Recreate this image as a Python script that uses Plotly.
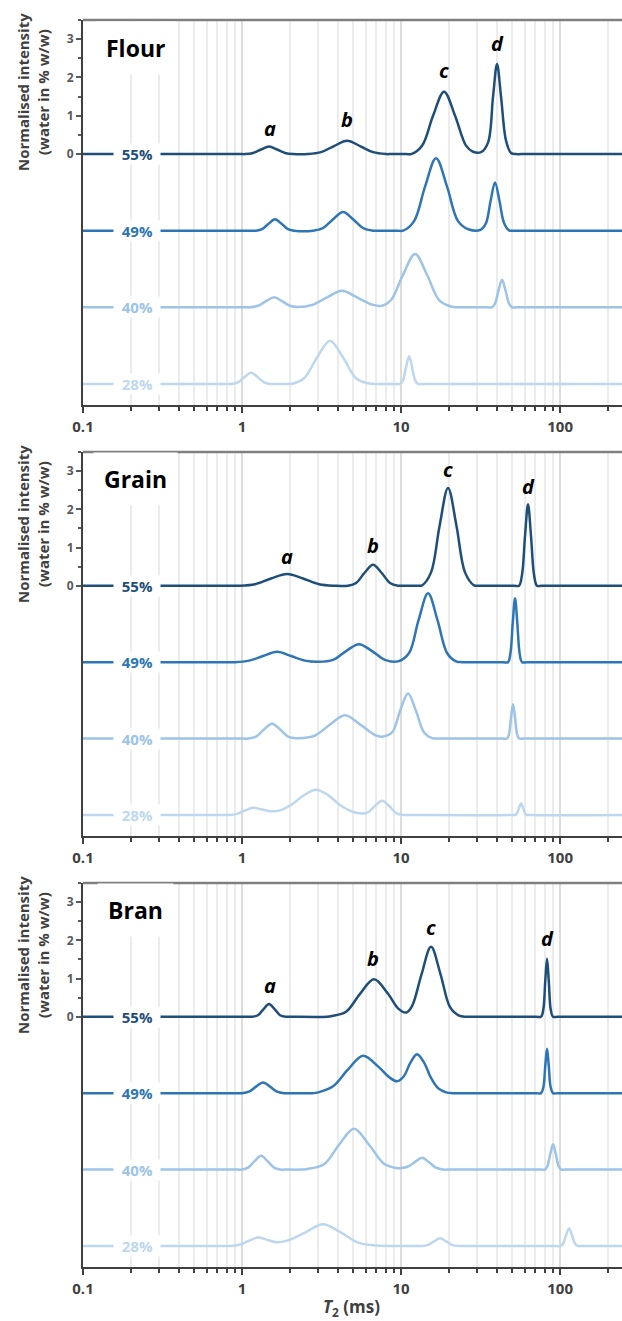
import math
import plotly.graph_objects as go

W, H = 622, 1321

# ---------------- data (T2 in ms, normalised intensity) ----------------
panels = ["Flour", "Grain", "Bran"]
moistures = ["55%", "49%", "40%", "28%"]
offsets = [0, -2, -4, -6]

flour_55_t2 = [0.1, 0.97, 1.044, 1.173, 1.317, 1.478, 1.660, 1.864, 2.093, 2.600, 3.139, 3.790, 4.574, 5.521, 6.664, 8.044,
               8.65, 10.75, 11.56, 13.55, 15.89, 18.63, 21.85, 25.61, 28.35, 31.83, 35.22, 37.87, 40.12, 42.51, 45.70,
               49.14, 52.82, 56.8, 245]
flour_55_int = [0, 0, 0, 0.03, 0.12, 0.20, 0.12, 0.03, 0, 0, 0.05, 0.21, 0.35, 0.21, 0.05, 0,
                0, 0, 0, 0.22, 1.0, 1.63, 1.0, 0.22, 0.06, 0.05, 0.3, 1.5, 2.35, 1.5, 0.35,
                0.03, 0, 0, 0]

flour_49_t2 = [0.1, 1.14, 1.225, 1.336, 1.468, 1.613, 1.772, 1.947, 2.124, 2.796, 3.231, 3.735, 4.316, 4.989, 5.766, 6.664,
               7.16, 9.57, 10.29, 12.07, 14.15, 16.59, 19.46, 22.81, 26.75, 31.83, 34.22, 36.52, 38.97, 41.60, 44.40,
               47.73, 51.32, 55.2, 245]
flour_49_int = [0, 0, 0, 0.04, 0.18, 0.30, 0.18, 0.04, 0, 0, 0.07, 0.30, 0.49, 0.30, 0.07, 0,
                0, 0, 0, 0.25, 1.15, 1.89, 1.15, 0.25, 0.03, 0.03, 0.2, 0.77, 1.26, 0.77, 0.2,
                0.01, 0, 0, 0]

flour_40_t2 = [0.1, 1.04, 1.123, 1.261, 1.416, 1.590, 1.785, 2.004, 2.250, 2.756, 3.424, 4.254, 5.286, 6.569, 7.592,
               8.648, 10.29, 12.25, 14.56, 17.33, 20.62, 22.81, 24.5, 34.7, 37.33, 38.97, 41.00, 43.13, 45.37, 47.73,
               49.85, 53.6, 245]
flour_40_int = [0, 0, 0, 0.04, 0.16, 0.26, 0.16, 0.04, 0.01, 0.06, 0.26, 0.43, 0.26, 0.07, 0.04,
                0.19, 0.85, 1.39, 0.85, 0.19, 0.02, 0, 0, 0, 0, 0.1, 0.44, 0.72, 0.44, 0.1,
                0, 0, 0]

flour_28_t2 = [0.1, 0.80, 0.865, 0.943, 1.037, 1.139, 1.252, 1.375, 1.500, 1.61, 1.89, 2.033, 2.454, 2.962, 3.576,
               4.316, 5.210, 6.289, 7.375, 7.93, 9.16, 9.85, 10.29, 10.75, 11.23, 11.72, 12.25, 12.78, 13.74, 245]
flour_28_int = [0, 0, 0, 0.04, 0.18, 0.29, 0.18, 0.04, 0, 0, 0, 0, 0.15, 0.69, 1.13,
                0.69, 0.15, 0.01, 0, 0, 0, 0, 0.1, 0.44, 0.72, 0.44, 0.1, 0, 0, 0]

grain_55_t2 = [0.1, 0.89, 0.957, 1.207, 1.522, 1.919, 2.419, 3.050, 3.845, 4.641, 5.210, 5.893, 6.664, 7.537, 8.524,
               9.569, 10.29, 12.6, 13.55, 15.43, 17.45, 19.74, 22.32, 25.24, 28.76, 30.9, 51.3, 55.16, 57.62, 60.17,
               62.84, 65.63, 68.55, 71.59, 77.0, 245]
grain_55_int = [0, 0, 0, 0.04, 0.19, 0.31, 0.19, 0.04, 0, 0, 0.07, 0.34, 0.55, 0.34, 0.07,
                0, 0, 0, 0.01, 0.35, 1.56, 2.56, 1.56, 0.35, 0.01, 0, 0, 0, 0.29, 1.30,
                2.13, 1.30, 0.29, 0, 0, 0]

grain_49_t2 = [0.1, 0.84, 0.903, 1.107, 1.356, 1.660, 2.033, 2.490, 3.006, 3.735, 4.508, 5.442, 6.569, 7.929, 9.569,
               11.23, 12.88, 14.78, 16.95, 19.46, 22.16, 24.17, 26.0, 43.7, 47.05, 48.71, 50.36, 52.07, 53.82, 55.65,
               57.62, 62.0, 245]
grain_49_int = [0, 0, 0, 0.04, 0.16, 0.27, 0.16, 0.04, 0.01, 0.06, 0.29, 0.47, 0.29, 0.06, 0.02,
                0.24, 1.10, 1.80, 1.10, 0.24, 0.02, 0, 0, 0, 0, 0.23, 1.02, 1.67, 1.02, 0.23,
                0, 0, 0]

grain_40_t2 = [0.1, 1.01, 1.091, 1.225, 1.375, 1.544, 1.734, 1.947, 2.186, 2.878, 3.576, 4.443, 5.521, 6.860, 7.592,
               8.775, 9.85, 11.06, 12.42, 13.95, 15.66, 17.08, 18.4, 43.1, 46.37, 47.73, 49.14, 50.58, 52.07, 53.59,
               55.16, 59.3, 245]
grain_40_int = [0, 0, 0, 0.05, 0.24, 0.39, 0.24, 0.05, 0.01, 0.08, 0.37, 0.61, 0.37, 0.09, 0.05,
                0.16, 0.72, 1.18, 0.72, 0.16, 0.01, 0, 0, 0, 0, 0.12, 0.55, 0.90, 0.55, 0.12,
                0, 0, 0]

grain_28_t2 = [0.1, 0.77, 0.828, 0.930, 1.044, 1.173, 1.317, 1.500, 1.734, 2.063, 2.454, 2.920, 3.474, 4.133, 4.917,
               5.683, 6.199, 6.860, 7.592, 8.401, 9.295, 10.29, 11.06, 49.1, 52.82, 54.77, 56.79, 58.88, 61.05, 65.6, 245]
grain_28_int = [0, 0, 0, 0.03, 0.12, 0.19, 0.15, 0.10, 0.12, 0.28, 0.52, 0.66, 0.52, 0.26, 0.09,
                0.04, 0.07, 0.24, 0.37, 0.24, 0.05, 0, 0, 0, 0.01, 0.15, 0.30, 0.15, 0.01, 0, 0]

bran_55_t2 = [0.1, 1.075, 1.156, 1.261, 1.366, 1.478, 1.601, 1.734, 1.891, 2.03, 3.42, 3.681, 4.508, 5.521, 6.762,
              8.281, 9.569, 10.75, 11.72, 13.45, 15.43, 17.71, 20.32, 23.14, 25.61, 27.5, 70.6, 75.86, 78.54, 80.62,
              82.74, 84.92, 87.16, 90.25, 97.0, 245]
bran_55_int = [0, 0, 0, 0.04, 0.20, 0.33, 0.20, 0.04, 0, 0, 0, 0.02, 0.13, 0.60, 0.98,
               0.60, 0.22, 0.11, 0.28, 1.11, 1.83, 1.11, 0.25, 0.03, 0, 0, 0, 0, 0.21, 0.92,
               1.52, 0.92, 0.21, 0, 0, 0]

bran_49_t2 = [0.1, 0.93, 1.0, 1.107, 1.225, 1.356, 1.500, 1.660, 1.838, 1.98, 2.80, 3.006, 3.735, 4.641, 5.766,
              7.164, 8.524, 9.431, 10.44, 11.39, 12.60, 13.95, 15.43, 17.08, 19.18, 20.92, 22.5, 70.6, 75.86, 78.54,
              80.62, 82.74, 84.92, 87.16, 90.25, 97.0, 245]
bran_49_int = [0, 0, 0, 0.04, 0.17, 0.28, 0.17, 0.04, 0, 0, 0, 0.02, 0.18, 0.62, 0.98,
               0.70, 0.40, 0.31, 0.45, 0.78, 1.02, 0.80, 0.40, 0.13, 0.02, 0, 0, 0, 0, 0.16,
               0.70, 1.16, 0.70, 0.16, 0, 0, 0]

bran_40_t2 = [0.1, 0.93, 1.0, 1.091, 1.199, 1.317, 1.447, 1.590, 1.734, 1.86, 2.35, 2.526, 3.279, 4.074, 5.062,
              6.289, 7.815, 9.295, 10.14, 11.06, 12.25, 13.55, 14.99, 16.59, 18.36, 19.7, 74.8, 80.38, 83.22, 86.66,
              90.25, 94.0, 97.9, 101.4, 109.0, 245]
bran_40_int = [0, 0, 0, 0.05, 0.22, 0.36, 0.22, 0.05, 0, 0, 0, 0.01, 0.14, 0.65, 1.07,
               0.65, 0.15, 0.04, 0.04, 0.08, 0.20, 0.31, 0.19, 0.05, 0, 0, 0, 0, 0.09, 0.40,
               0.66, 0.40, 0.09, 0, 0, 0]

bran_28_t2 = [0.1, 0.79, 0.852, 0.971, 1.107, 1.261, 1.436, 1.636, 1.919, 2.490, 3.231, 4.193, 5.442, 7.061, 8.775,
              9.43, 12.6, 13.55, 14.78, 16.12, 17.58, 19.18, 20.92, 22.81, 24.5, 93.0, 99.9, 104.3, 109.0, 113.8,
              118.9, 124.2, 129.7, 139.0, 245]
bran_28_int = [0, 0, 0, 0.04, 0.14, 0.22, 0.16, 0.10, 0.14, 0.35, 0.57, 0.35, 0.08, 0.01, 0,
               0, 0, 0, 0.03, 0.12, 0.20, 0.12, 0.03, 0, 0, 0, 0, 0.06, 0.28, 0.46,
               0.28, 0.06, 0, 0, 0]

curves = {
    "Flour": [(flour_55_t2, flour_55_int), (flour_49_t2, flour_49_int), (flour_40_t2, flour_40_int), (flour_28_t2, flour_28_int)],
    "Grain": [(grain_55_t2, grain_55_int), (grain_49_t2, grain_49_int), (grain_40_t2, grain_40_int), (grain_28_t2, grain_28_int)],
    "Bran": [(bran_55_t2, bran_55_int), (bran_49_t2, bran_49_int), (bran_40_t2, bran_40_int), (bran_28_t2, bran_28_int)],
}
for _name, _lst in curves.items():
    for _t, _v in _lst:
        assert len(_t) == len(_v), (_name, len(_t), len(_v))

x_major = [0.1, 1, 10, 100]
x_major_text = ["0.1", "1", "10", "100"]
x_minor = [m * d for d in (0.1, 1, 10, 100) for m in range(2, 10) if m * d <= 245]
y_major = [0, 1, 2, 3]
y_minor = [0.5, 1.5, 2.5, 3.5]

# peak letters: (panel, letter, x_px, y_px)
letters = [
    ("Flour", "a", 270, 128), ("Flour", "b", 347, 119), ("Flour", "c", 444, 71), ("Flour", "d", 497, 43),
    ("Grain", "a", 287, 556), ("Grain", "b", 373, 545), ("Grain", "c", 448, 470), ("Grain", "d", 528, 486),
    ("Bran", "a", 270, 985), ("Bran", "b", 373, 958), ("Bran", "c", 431, 927), ("Bran", "d", 547, 938),
]

# ---------------- styling ----------------
colors = ["#1f4e79", "#2e75b6", "#9dc3e6", "#bdd7ee"]
FONT = "Open Sans"
plot_left = 83
panel_px = [(20, 405), (452, 836), (883, 1267)]  # top, bottom in pixels
title_px = [(135, 48), (135, 479), (135, 910)]
ytitle_py = [92, 524, 955]
y_range = [-6.55, 3.5]
x_range = [-1, math.log10(245)]


def px(x, y):
    return x / W, 1 - y / H


fig = go.Figure()
annotations = []
shapes = []
layout = {}

for i, name in enumerate(panels):
    k = "" if i == 0 else str(i + 1)
    for j, (t2, val) in enumerate(curves[name]):
        fig.add_trace(go.Scatter(
            x=t2, y=[v + offsets[j] for v in val], mode="lines",
            line=dict(color=colors[j], width=2.5, shape="spline", smoothing=1.0),
            xaxis="x" + k, yaxis="y" + k, showlegend=False, hoverinfo="skip"))
        annotations.append(dict(
            x=math.log10(0.22), y=offsets[j], xref="x" + k, yref="y" + k,
            xanchor="center", yanchor="middle",
            text="\u00a0\u00a0" + moistures[j] + "\u00a0\u00a0", showarrow=False,
            bgcolor="white", borderpad=0,
            font=dict(family=FONT, size=15, color=colors[j], weight="bold")))

    top, bot = panel_px[i]
    layout["xaxis" + k] = dict(
        type="log", range=x_range, domain=[plot_left / W, 1], anchor="y" + k, automargin=False,
        tickvals=x_major, ticktext=x_major_text, ticks="outside", ticklen=6, tickwidth=1.5,
        tickcolor="#404040", showline=True, linecolor="#404040", linewidth=2,
        showgrid=True, gridcolor="#dcdcdc", gridwidth=1.5, zeroline=False,
        ticklabelstandoff=1,
        tickfont=dict(family=FONT, size=15, color="#404040", weight="bold"),
        minor=dict(tickvals=x_minor, ticks="outside", ticklen=4, tickwidth=1.5, tickcolor="#404040",
                   showgrid=True, gridcolor="#ececec", gridwidth=1.5),
    )
    layout["yaxis" + k] = dict(
        range=y_range, domain=[1 - bot / H, 1 - top / H], anchor="x" + k, automargin=False,
        tickvals=y_major, ticks="outside", ticklen=5, tickwidth=1.5, tickcolor="#595959",
        showline=True, linecolor="#404040", linewidth=2, showgrid=False, zeroline=False,
        tickfont=dict(family=FONT, size=12, color="#595959", weight="bold"),
        minor=dict(tickvals=y_minor, ticks="outside", ticklen=3, tickwidth=1.5, tickcolor="#595959"),
    )
    # top border
    shapes.append(dict(type="line", xref="paper", yref="paper",
                       x0=plot_left / W, x1=1, y0=1 - top / H, y1=1 - top / H,
                       line=dict(color="#808080", width=2.5)))
    # panel title
    tx, ty = px(*title_px[i])
    annotations.append(dict(x=tx, y=ty, xref="paper", yref="paper", text=name, showarrow=False,
                            xanchor="center", yanchor="middle", bgcolor="white", borderpad=10,
                            font=dict(family=FONT, size=23, color="black", weight="bold")))
    # y axis title
    yx, yy = px(33, ytitle_py[i])
    annotations.append(dict(x=yx, y=yy, xref="paper", yref="paper",
                            text="Normalised intensity<br>(water in % w/w)", showarrow=False,
                            textangle=-90, xanchor="center", yanchor="middle",
                            font=dict(family=FONT, size=15, color="#404040", weight="bold")))

for name, letter, lx, ly in letters:
    ax, ay = px(lx, ly)
    annotations.append(dict(x=ax, y=ay, xref="paper", yref="paper", text="<i>" + letter + "</i>",
                            showarrow=False, xanchor="center", yanchor="middle",
                            font=dict(family=FONT, size=20, color="black", weight="bold")))

# x axis title
tx, ty = px(351, 1307)
annotations.append(dict(x=tx, y=ty, xref="paper", yref="paper",
                        text="<i>T</i><sub>2</sub> (ms)", showarrow=False,
                        xanchor="center", yanchor="middle",
                        font=dict(family=FONT, size=17, color="#404040", weight="bold")))

fig.update_layout(
    width=W, height=H, margin=dict(l=0, r=0, t=0, b=0, autoexpand=False),
    paper_bgcolor="white", plot_bgcolor="white",
    annotations=annotations, shapes=shapes, **layout)

fig.write_html("out.html")
